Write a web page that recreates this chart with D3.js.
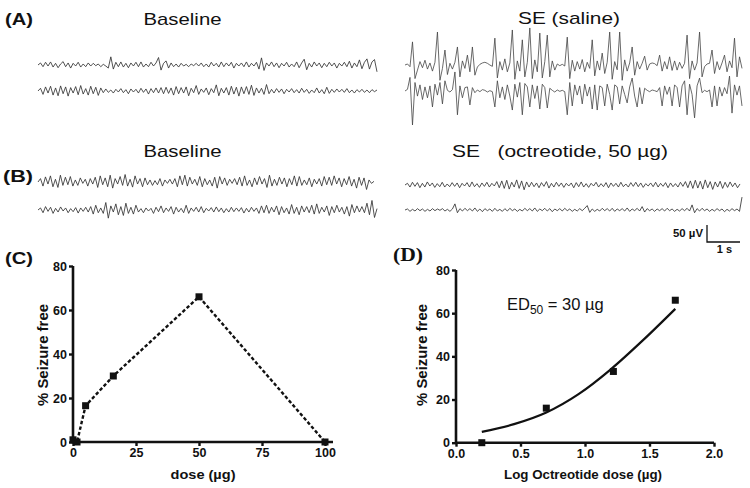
<!DOCTYPE html>
<html><head><meta charset="utf-8">
<script src="https://cdn.jsdelivr.net/npm/d3@7"></script>
<style>
body{margin:0;background:#fff}
svg{display:block}
text{font-family:Arial,"Liberation Sans",Helvetica,sans-serif;fill:#111}
</style>
</head><body>
<svg id="fig" width="750" height="488"></svg>
<script>
// ---------------- EEG traces (µV, positive up, equal time steps) ----------------
const baselineA1 = [0,6,-5,8,-3,9,-6,5,-8,3, 10,-5,6,-9,5,-3,8,-6,3,-5, 6,-3,5,-2,3,-5,2,-3,-9,24, -12,8,-5,9,-6,5,-8,6,-3,8, -5,9,-6,3,-5,8,-3,6,22,-15, 5,12,-9,6,-5,3,-6,5,-3,2, -5,3,-2,5,-3,6,-5,3,-6,8, -3,5,-6,9,-5,6,-3,8,-9,5, -3,6,-5,9,-6,5,-3,8,-12,21, -16,6,-3,9,-5,6,-8,5,-3,8, -6,3,-5,9,-8,6,17,-14,5,-6, 9,-3,6,-8,5,-5,8,-3,6,-9, 5,-3,8,-5,11,-9,6,-5,15,-11, 8,18,-12,9,16,-20];
const baselineA2 = [0,8,-10,12,-6,14,-12,9,-14,15, -8,12,-15,10,-6,13,-11,16,-9,7, -12,14,-8,11,-13,9,-5,6,-4,3, -6,5,-3,7,-5,4,-8,6,-3,5, -6,8,-4,6,-9,7,-5,9,-6,10, -8,11,-7,9,-12,13,-8,10,-6,12, -14,8,-5,16,-10,6,-4,9,-11,7, -5,18,-14,8,-6,10,-12,14,-9,11, -15,12,-8,13,-10,17,-13,9,-6,8, -10,19,-8,5,-6,7,-4,6,-8,5, -3,7,-5,4,-6,8,-4,5,-7,3, -5,9,-6,4,-8,11,-7,5,-4,6, -3,5,-4,7,-5,3,-6,4,-3,5, -4,3,-5,4,-2,3];
const salineS1 = [0,3,-5,68,-40,-15,10,-8,14,-12, 6,-18,8,97,-45,-10,44,-28,5,-12, 8,53,-35,12,-10,29,-20,53,-30,-6, 2,6,8,5,0,-4,79,-38,10,-15, 18,-20,6,103,-42,12,-18,74,-35,8, 109,-40,15,-20,94,-38,10,88,-35,12, -15,3,-2,2,-3,82,-40,14,-18,10, -12,16,-20,8,-10,74,-32,12,-15,35, -25,8,97,-42,10,-14,97,-45,15,-18, 6,53,-30,10,-12,5,26,-15,3,6, 4,-2,29,-18,10,-12,24,-16,12,-15, 8,-10,5,88,-40,12,-15,6,97,-35, -5,3,5,44,-25,10,-14,6,29,-20, 12,-8,79,-35,24,-10];
const salineS2 = [0,5,40,-100,25,-15,18,-25,12,-20, 15,-47,20,-12,25,-38,30,2,-3,4, 56,-70,15,-20,10,12,-41,10,-5,3, -2,4,2,-3,1,-2,-47,30,-20,12, -25,18,-15,-56,20,-18,25,-70,22,12, -47,18,-22,15,-53,20,10,-50,8,2, -3,3,-1,2,-2,-70,25,-44,18,-12, 15,-38,20,-15,12,-53,18,-56,15,10, -44,20,-10,-56,18,12,-38,15,-10,-35, 12,38,-15,-47,10,-38,8,2,-2,3, 1,-2,10,-44,15,-10,12,-44,18,10, -47,15,30,-70,20,-10,-79,15,38,-5, 2,-2,3,-47,15,-44,12,-15,10,-8, 44,-65,18,-12,15,-44];
const baselineB1 = [0,10,-12,15,-6,18,-14,8,-16,20, -10,14,-8,16,-12,6,-10,12,-4,8, -12,10,-6,14,-16,18,-8,12,-14,20, -18,10,-6,16,-10,22,-12,8,-15,18, -6,10,-14,12,-8,6,-10,4,-8,10, -12,6,-4,8,-6,10,-14,18,-8,20, -12,14,-6,8,-10,16,-14,10,-8,6, -12,14,-18,16,-6,12,-10,8,-4,10, -8,14,-12,18,-10,6,-14,12,-8,16, -6,10,-16,20,-12,8,-10,14,-6,12, -14,10,-8,18,-12,16,-10,6,-8,12, -14,8,-6,10,-12,16,-8,14,-10,18, -6,12,-14,10,-8,16,-12,8,-18,14, -10,12,-22,6,-4,2];
const baselineB2 = [0,6,-8,10,-4,8,-10,5,-6,9, -3,6,-8,4,-5,7,-9,6,-4,8, -6,10,-12,14,-8,6,-10,22,-24,12, -6,18,-14,10,-16,20,-10,8,-12,14, -6,4,-8,6,-3,5,-10,8,-5,12, -8,6,-4,10,-12,8,-6,5,-8,14, -10,6,-4,8,-6,10,-8,5,-3,7, -6,9,-5,6,-8,4,-6,8,-5,6, -4,7,-9,5,-6,8,-4,6,-10,12, -8,14,-10,8,-6,12,-14,10,-8,6, -12,16,-10,8,-14,12,-6,10,-8,14, -12,18,-10,8,-6,12,-16,10,-8,14, -6,8,-12,10,-18,16,-8,12,-6,10, -8,20,-14,28,-22,4];
const octreotideO1 = [0,5,-6,8,-4,7,-8,5,-6,9, -3,6,-7,4,-5,8,-6,3,-5,7, -4,6,-8,5,-3,7,-6,9,-5,4, -7,6,-4,8,-6,5,-3,10,-8,12, -10,14,-12,8,-6,15,-10,12,-14,9, -6,8,-5,6,-8,7,-4,10,-9,5, -6,8,-4,6,-7,5,-3,6,-8,7, -5,9,-6,4,-7,5,-3,8,-6,4, -5,7,-8,6,-4,5,-6,8,-5,3, -6,7,-4,8,-5,6,-7,4,-3,6, -5,8,-6,5,-4,7,-8,6,-5,4, -6,8,-4,10,-8,12,-10,14,-9,11, -12,15,-8,10,-13,9,-6,11,-10,8, -7,9,-5,6,-8,3];
const octreotideO2 = [0,3,-4,2,-3,4,-2,3,-4,2, -3,4,-2,3,-1,4,-3,2,-4,3, 18,-8,4,-3,5,-2,4,-3,6,-4, 3,-5,4,-2,3,-4,5,-3,2,-4, 4,-3,5,-2,3,-4,2,-3,5,-2, 4,-3,6,-4,3,-2,5,-3,4,-5, 3,-2,4,-3,5,-2,3,-4,2,-3, 4,-2,5,13,-7,3,-4,2,-3,5, -2,4,-3,5,-4,3,-2,4,-3,6, -4,3,-2,5,-3,10,-6,4,-2,3, -4,3,-2,4,-3,5,-2,3,-4,2, -3,4,-2,5,-3,15,-8,4,-3,5, -2,3,-4,2,-3,4,-2,3,-5,2, -3,4,-2,3,-4,38];

// ---------------- Scale bar ----------------
const scaleBarUV = 50;   // µV
const scaleBarSec = 1;   // s

// ---------------- Panel C ----------------
const doseC = [0, 1.6, 5, 16, 50, 100];
const freeC = [1, 0, 16.5, 30, 66, 0];
const ticksCx = [0, 25, 50, 75, 100];
const ticksY = [0, 20, 40, 60, 80];

// ---------------- Panel D ----------------
const logDoseD = [0.2, 0.7, 1.22, 1.7];
const freeD = [0, 16, 33, 66];
const fitX = [0.2, 0.45, 0.7, 0.95, 1.2, 1.45, 1.7];
const fitY = [5, 8.6, 14, 22.5, 34, 47.5, 62];
const ticksDx = [0, 0.5, 1.0, 1.5, 2.0];

const svg = d3.select("#fig");

// µV -> px (50 µV = 17 px), seconds -> px (1 s = 33 px)
const uvPx = d3.scaleLinear().domain([0, 50]).range([0, 17]);
const secPx = d3.scaleLinear().domain([0, 1]).range([0, 33]);

function trace(vals, x0, x1, yc, color, w) {
  const x = d3.scaleLinear().domain([0, vals.length - 1]).range([x0, x1]);
  const y = d3.scaleLinear().domain([-50, 50]).range([yc + uvPx(50), yc - uvPx(50)]);
  svg.append("path")
    .attr("d", d3.line().x((d, i) => x(i)).y(d => y(d))(vals))
    .attr("fill", "none").attr("stroke", color || "#333")
    .attr("stroke-width", w || 0.85).attr("stroke-linejoin", "round");
}
trace(baselineA1, 38, 377, 65);
trace(baselineA2, 38, 377, 91);
trace(salineS1, 405, 742, 65, "#444", 0.8);
trace(salineS2, 405, 742, 91, "#444", 0.8);
trace(baselineB1, 38, 374, 182);
trace(baselineB2, 38, 377, 210);
trace(octreotideO1, 405, 740, 185);
trace(octreotideO2, 405, 742, 210);

// text helper
function txt(s, x, y, opts) {
  const t = svg.append("text").attr("x", x).attr("y", y).text(s);
  opts = opts || {};
  t.attr("font-size", opts.size || 17)
   .attr("font-weight", opts.weight || "normal")
   .attr("text-anchor", opts.anchor || "start");
  if (opts.family) t.style("font-family", opts.family);
  if (opts.len) t.attr("textLength", opts.len).attr("lengthAdjust", "spacingAndGlyphs");
  if (opts.pre) t.style("white-space", "pre");
  return t;
}
// panel labels
txt("(A)", 5, 25, {weight: "bold", len: 28});
txt("(B)", 3, 182, {weight: "bold", len: 30});
txt("(C)", 5, 264, {weight: "bold", len: 28});
txt("(D)", 393, 261, {weight: "bold", size: 19, family: "'Liberation Serif','DejaVu Serif',serif", len: 30});
// titles
txt("Baseline", 182.5, 25, {anchor: "middle", len: 78});
txt("SE (saline)", 569, 24, {anchor: "middle", len: 102});
txt("Baseline", 182.5, 157, {anchor: "middle", len: 78});
txt("SE   (octreotide, 50 \u00b5g)", 560, 157, {anchor: "middle", len: 216, pre: true});

// scale bar
const sbX = 707, sbY = 242;
svg.append("path")
  .attr("d", `M${sbX},${sbY - uvPx(scaleBarUV)}V${sbY}H${sbX + secPx(scaleBarSec)}`)
  .attr("fill", "none").attr("stroke", "#111").attr("stroke-width", 1.3);
txt("50 \u00b5V", 703, 237, {anchor: "end", weight: "bold", size: 11, len: 30});
txt("1 s", 724.5, 253, {anchor: "middle", weight: "bold", size: 11});

// ---------------- chart helper ----------------
function axes(x, y, xTicks, xFmt, xEnd) {
  const g = svg.append("g");
  const x0 = x.range()[0], yb = y.range()[0], yt = y.range()[1];
  g.append("path").attr("d", `M${x0},${yt}V${yb}H${xEnd}`)
    .attr("fill", "none").attr("stroke", "#111").attr("stroke-width", 2.6);
  const ax = d3.axisBottom(x).tickValues(xTicks).tickFormat(xFmt).tickSize(4).tickPadding(2).tickSizeOuter(0);
  const ay = d3.axisLeft(y).tickValues(ticksY).tickSize(4).tickPadding(2).tickSizeOuter(0);
  const gx = g.append("g").attr("transform", `translate(0,${yb})`).call(ax);
  const gy = g.append("g").attr("transform", `translate(${x0},0)`).call(ay);
  [gx, gy].forEach(a => {
    a.select(".domain").remove();
    a.selectAll("line").attr("stroke", "#111").attr("stroke-width", 2.4);
    a.selectAll("text").attr("font-size", 12.5).attr("font-weight", "bold")
      .style("font-family", "Arial,'Liberation Sans',sans-serif").attr("fill", "#111");
  });
}

// ---------------- Panel C ----------------
const xC = d3.scaleLinear().domain([0, 100]).range([73, 325]);
const yC = d3.scaleLinear().domain([0, 80]).range([442, 266]);
axes(xC, yC, ticksCx, d3.format("d"), 333);
const ptsC = doseC.map((d, i) => [d, freeC[i]]);
svg.append("path")
  .attr("d", d3.line().x(d => xC(d[0])).y(d => yC(d[1]))(ptsC))
  .attr("fill", "none").attr("stroke", "#111").attr("stroke-width", 2.4)
  .attr("stroke-dasharray", "3.5,2.2");
svg.selectAll(".sqC").data(ptsC).enter().append("rect")
  .attr("x", d => xC(d[0]) - 3.5).attr("y", d => yC(d[1]) - 3.5)
  .attr("width", 7).attr("height", 7).attr("fill", "#111");
txt("dose (\u00b5g)", 203, 479, {anchor: "middle", weight: "bold", size: 13, len: 65});
txt("% Seizure free", 0, 0, {anchor: "middle", weight: "bold", size: 14, len: 102})
  .attr("transform", "translate(48,355) rotate(-90)").attr("fill", "#333");

// ---------------- Panel D ----------------
const xD = d3.scaleLinear().domain([0, 2]).range([456, 714]);
const yD = d3.scaleLinear().domain([0, 80]).range([442.7, 270]);
axes(xD, yD, ticksDx, d3.format(".1f"), 714);
svg.append("path")
  .attr("d", d3.line().curve(d3.curveMonotoneX).x(d => xD(d[0])).y(d => yD(d[1]))(fitX.map((v, i) => [v, fitY[i]])))
  .attr("fill", "none").attr("stroke", "#111").attr("stroke-width", 2.2);
svg.selectAll(".sqD").data(logDoseD.map((v, i) => [v, freeD[i]])).enter().append("rect")
  .attr("x", d => xD(d[0]) - 3.5).attr("y", d => yD(d[1]) - 3.5)
  .attr("width", 7).attr("height", 7).attr("fill", "#111");
const ed = svg.append("text").attr("x", 507).attr("y", 310).attr("font-size", 16.5);
ed.append("tspan").text("ED");
ed.append("tspan").attr("font-size", 12).attr("dy", 4).text("50");
ed.append("tspan").attr("dy", -4).text(" = 30 \u00b5g");
txt("Log Octreotide dose (\u00b5g)", 583, 479, {anchor: "middle", weight: "bold", size: 13, len: 158});
txt("% Seizure free", 0, 0, {anchor: "middle", weight: "bold", size: 14, len: 102})
  .attr("transform", "translate(427,355) rotate(-90)").attr("fill", "#333");
</script>
</body></html>
